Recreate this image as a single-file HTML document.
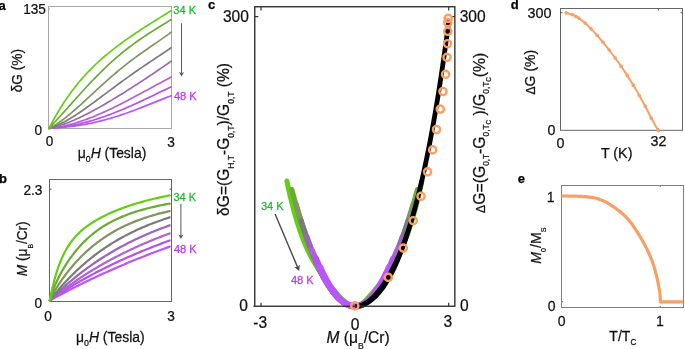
<!DOCTYPE html>
<html><head><meta charset="utf-8"><title>Figure</title>
<style>
html,body{margin:0;padding:0;background:#fff;}
svg{display:block;font-family:'Liberation Sans', Arial, Helvetica, sans-serif;}
</style></head>
<body>
<svg width="685" height="349" viewBox="0 0 685 349">
<rect width="685" height="349" fill="#fff"/>
<rect x="48.5" y="6.5" width="123" height="122" fill="none" stroke="#a8a8a8" stroke-width="1"/>
<path d="M48.5 9h1.5" stroke="#999" stroke-width="1"/>
<g fill="none" stroke-width="1.7" stroke-linecap="round" stroke-linejoin="round">
<path d="M48.96 128.30 L51.45 128.16 L53.95 128.00 L56.44 127.83 L58.94 127.64 L61.43 127.43 L63.92 127.20 L66.42 126.95 L68.91 126.68 L71.40 126.39 L73.90 126.07 L76.39 125.72 L78.89 125.35 L81.38 124.96 L83.87 124.54 L86.37 124.09 L88.86 123.61 L91.36 123.11 L93.85 122.57 L96.34 122.01 L98.84 121.42 L101.33 120.81 L103.83 120.16 L106.32 119.49 L108.81 118.79 L111.31 118.06 L113.80 117.31 L116.29 116.53 L118.79 115.73 L121.28 114.91 L123.78 114.06 L126.27 113.19 L128.76 112.30 L131.26 111.39 L133.75 110.47 L136.25 109.53 L138.74 108.57 L141.23 107.60 L143.73 106.62 L146.22 105.63 L148.72 104.64 L151.21 103.63 L153.70 102.63 L156.20 101.62 L158.69 100.62 L161.18 99.62 L163.68 98.63 L166.17 97.65 L168.67 96.68 L171.16 95.72" stroke="#bb55ff"/>
<path d="M48.96 128.30 L51.45 128.15 L53.95 127.96 L56.44 127.74 L58.94 127.47 L61.43 127.16 L63.92 126.82 L66.42 126.44 L68.91 126.02 L71.40 125.57 L73.90 125.08 L76.39 124.56 L78.89 124.00 L81.38 123.41 L83.87 122.78 L86.37 122.12 L88.86 121.43 L91.36 120.71 L93.85 119.97 L96.34 119.19 L98.84 118.38 L101.33 117.54 L103.83 116.68 L106.32 115.79 L108.81 114.88 L111.31 113.94 L113.80 112.98 L116.29 112.00 L118.79 111.00 L121.28 109.97 L123.78 108.92 L126.27 107.86 L128.76 106.78 L131.26 105.68 L133.75 104.57 L136.25 103.44 L138.74 102.30 L141.23 101.14 L143.73 99.98 L146.22 98.80 L148.72 97.62 L151.21 96.43 L153.70 95.23 L156.20 94.02 L158.69 92.81 L161.18 91.60 L163.68 90.39 L166.17 89.17 L168.67 87.96 L171.16 86.75" stroke="#b552ee"/>
<path d="M48.96 128.30 L51.45 128.05 L53.95 127.75 L56.44 127.39 L58.94 126.98 L61.43 126.51 L63.92 126.00 L66.42 125.44 L68.91 124.82 L71.40 124.17 L73.90 123.46 L76.39 122.72 L78.89 121.93 L81.38 121.11 L83.87 120.24 L86.37 119.34 L88.86 118.41 L91.36 117.44 L93.85 116.44 L96.34 115.41 L98.84 114.34 L101.33 113.25 L103.83 112.14 L106.32 111.00 L108.81 109.83 L111.31 108.65 L113.80 107.44 L116.29 106.21 L118.79 104.97 L121.28 103.71 L123.78 102.43 L126.27 101.14 L128.76 99.84 L131.26 98.52 L133.75 97.20 L136.25 95.87 L138.74 94.53 L141.23 93.19 L143.73 91.84 L146.22 90.49 L148.72 89.13 L151.21 87.78 L153.70 86.42 L156.20 85.07 L158.69 83.72 L161.18 82.38 L163.68 81.04 L166.17 79.71 L168.67 78.39 L171.16 77.08" stroke="#b062d6"/>
<path d="M48.96 128.30 L51.45 127.76 L53.95 127.15 L56.44 126.48 L58.94 125.74 L61.43 124.95 L63.92 124.09 L66.42 123.18 L68.91 122.23 L71.40 121.22 L73.90 120.17 L76.39 119.07 L78.89 117.93 L81.38 116.76 L83.87 115.54 L86.37 114.30 L88.86 113.02 L91.36 111.71 L93.85 110.37 L96.34 109.01 L98.84 107.62 L101.33 106.21 L103.83 104.78 L106.32 103.33 L108.81 101.85 L111.31 100.37 L113.80 98.86 L116.29 97.34 L118.79 95.81 L121.28 94.26 L123.78 92.70 L126.27 91.13 L128.76 89.54 L131.26 87.95 L133.75 86.35 L136.25 84.74 L138.74 83.11 L141.23 81.48 L143.73 79.84 L146.22 78.20 L148.72 76.54 L151.21 74.87 L153.70 73.20 L156.20 71.52 L158.69 69.82 L161.18 68.12 L163.68 66.40 L166.17 64.67 L168.67 62.94 L171.16 61.18" stroke="#9966bb"/>
<path d="M48.96 128.30 L51.45 127.52 L53.95 126.63 L56.44 125.63 L58.94 124.53 L61.43 123.33 L63.92 122.06 L66.42 120.70 L68.91 119.27 L71.40 117.78 L73.90 116.22 L76.39 114.62 L78.89 112.97 L81.38 111.27 L83.87 109.54 L86.37 107.78 L88.86 105.99 L91.36 104.18 L93.85 102.35 L96.34 100.51 L98.84 98.65 L101.33 96.79 L103.83 94.92 L106.32 93.06 L108.81 91.19 L111.31 89.33 L113.80 87.48 L116.29 85.63 L118.79 83.79 L121.28 81.97 L123.78 80.15 L126.27 78.35 L128.76 76.57 L131.26 74.80 L133.75 73.04 L136.25 71.30 L138.74 69.57 L141.23 67.85 L143.73 66.15 L146.22 64.46 L148.72 62.78 L151.21 61.10 L153.70 59.44 L156.20 57.78 L158.69 56.12 L161.18 54.46 L163.68 52.79 L166.17 51.12 L168.67 49.44 L171.16 47.75" stroke="#7b7b7b"/>
<path d="M48.96 128.30 L51.45 127.05 L53.95 125.65 L56.44 124.12 L58.94 122.47 L61.43 120.72 L63.92 118.86 L66.42 116.93 L68.91 114.91 L71.40 112.83 L73.90 110.69 L76.39 108.51 L78.89 106.28 L81.38 104.03 L83.87 101.75 L86.37 99.45 L88.86 97.14 L91.36 94.83 L93.85 92.51 L96.34 90.21 L98.84 87.91 L101.33 85.64 L103.83 83.38 L106.32 81.14 L108.81 78.93 L111.31 76.75 L113.80 74.60 L116.29 72.49 L118.79 70.40 L121.28 68.36 L123.78 66.35 L126.27 64.37 L128.76 62.43 L131.26 60.52 L133.75 58.65 L136.25 56.81 L138.74 54.99 L141.23 53.21 L143.73 51.44 L146.22 49.70 L148.72 47.97 L151.21 46.25 L153.70 44.54 L156.20 42.83 L158.69 41.11 L161.18 39.38 L163.68 37.64 L166.17 35.87 L168.67 34.07 L171.16 32.23" stroke="#7f9660"/>
<path d="M48.96 128.30 L51.45 125.67 L53.95 123.00 L56.44 120.29 L58.94 117.55 L61.43 114.78 L63.92 112.00 L66.42 109.20 L68.91 106.40 L71.40 103.59 L73.90 100.79 L76.39 98.00 L78.89 95.23 L81.38 92.47 L83.87 89.74 L86.37 87.04 L88.86 84.36 L91.36 81.72 L93.85 79.12 L96.34 76.55 L98.84 74.03 L101.33 71.56 L103.83 69.12 L106.32 66.74 L108.81 64.40 L111.31 62.12 L113.80 59.88 L116.29 57.70 L118.79 55.57 L121.28 53.48 L123.78 51.45 L126.27 49.47 L128.76 47.54 L131.26 45.65 L133.75 43.81 L136.25 42.01 L138.74 40.25 L141.23 38.53 L143.73 36.85 L146.22 35.19 L148.72 33.57 L151.21 31.98 L153.70 30.40 L156.20 28.84 L158.69 27.30 L161.18 25.76 L163.68 24.22 L166.17 22.69 L168.67 21.14 L171.16 19.58" stroke="#69ab34"/>
<path d="M48.96 128.30 L51.45 123.56 L53.95 119.02 L56.44 114.65 L58.94 110.46 L61.43 106.43 L63.92 102.57 L66.42 98.85 L68.91 95.28 L71.40 91.85 L73.90 88.55 L76.39 85.38 L78.89 82.32 L81.38 79.38 L83.87 76.54 L86.37 73.80 L88.86 71.16 L91.36 68.60 L93.85 66.14 L96.34 63.75 L98.84 61.43 L101.33 59.19 L103.83 57.01 L106.32 54.89 L108.81 52.83 L111.31 50.82 L113.80 48.85 L116.29 46.94 L118.79 45.06 L121.28 43.22 L123.78 41.42 L126.27 39.65 L128.76 37.90 L131.26 36.19 L133.75 34.49 L136.25 32.82 L138.74 31.17 L141.23 29.53 L143.73 27.91 L146.22 26.31 L148.72 24.71 L151.21 23.13 L153.70 21.56 L156.20 19.99 L158.69 18.43 L161.18 16.88 L163.68 15.34 L166.17 13.81 L168.67 12.28 L171.16 10.76" stroke="#66cc14"/>
</g>
<line x1="181.50" y1="23.40" x2="181.50" y2="73.00" stroke="#555" stroke-width="1"/>
<path d="M181.50 76.50 L178.90 72.00 L181.50 73.20 L184.10 72.00 Z" fill="#555"/>
<rect x="49.5" y="179.5" width="122" height="122" fill="none" stroke="#666" stroke-width="1"/>
<path d="M49.5 189.2h2 M171.5 189.2h-2" stroke="#555" stroke-width="1"/>
<g fill="none" stroke-width="2.2" stroke-linecap="round" stroke-linejoin="round">
<path d="M49.80 300.50 L49.89 300.45 L50.08 300.35 L50.33 300.21 L50.64 300.04 L51.00 299.84 L51.40 299.61 L51.85 299.37 L52.34 299.10 L52.87 298.81 L53.43 298.50 L54.03 298.18 L54.66 297.83 L55.32 297.47 L56.02 297.09 L56.74 296.70 L57.50 296.29 L58.28 295.87 L59.09 295.43 L59.93 294.99 L60.80 294.52 L61.69 294.05 L62.61 293.56 L63.56 293.06 L64.53 292.55 L65.52 292.03 L66.54 291.50 L67.58 290.96 L68.65 290.40 L69.74 289.84 L70.85 289.27 L71.98 288.69 L73.14 288.10 L74.31 287.50 L75.51 286.89 L76.73 286.28 L77.98 285.66 L79.24 285.03 L80.52 284.39 L81.83 283.74 L83.15 283.09 L84.49 282.43 L85.86 281.77 L87.24 281.10 L88.64 280.42 L90.07 279.74 L91.51 279.05 L92.97 278.35 L94.45 277.65 L95.94 276.95 L97.46 276.24 L98.99 275.53 L100.55 274.81 L102.12 274.09 L103.70 273.36 L105.31 272.63 L106.93 271.90 L108.58 271.16 L110.23 270.42 L111.91 269.68 L113.60 268.93 L115.31 268.18 L117.04 267.43 L118.78 266.67 L120.54 265.91 L122.32 265.16 L124.11 264.39 L125.92 263.63 L127.75 262.86 L129.59 262.10 L131.45 261.33 L133.32 260.56 L135.21 259.79 L137.12 259.01 L139.04 258.24 L140.98 257.47 L142.93 256.69 L144.90 255.92 L146.88 255.14 L148.88 254.36 L150.90 253.59 L152.93 252.81 L154.97 252.03 L157.03 251.25 L159.11 250.48 L161.19 249.70 L163.30 248.93 L165.42 248.15 L167.55 247.37 L169.70 246.60" stroke="#bb55ff"/>
<path d="M49.80 300.50 L49.89 300.43 L50.08 300.30 L50.33 300.12 L50.64 299.90 L51.00 299.64 L51.40 299.36 L51.85 299.04 L52.34 298.69 L52.87 298.33 L53.43 297.93 L54.03 297.52 L54.66 297.08 L55.32 296.63 L56.02 296.15 L56.74 295.66 L57.50 295.15 L58.28 294.63 L59.09 294.09 L59.93 293.54 L60.80 292.97 L61.69 292.39 L62.61 291.80 L63.56 291.19 L64.53 290.57 L65.52 289.95 L66.54 289.31 L67.58 288.66 L68.65 288.00 L69.74 287.34 L70.85 286.66 L71.98 285.98 L73.14 285.28 L74.31 284.58 L75.51 283.88 L76.73 283.16 L77.98 282.44 L79.24 281.72 L80.52 280.98 L81.83 280.24 L83.15 279.50 L84.49 278.75 L85.86 277.99 L87.24 277.24 L88.64 276.47 L90.07 275.70 L91.51 274.93 L92.97 274.15 L94.45 273.37 L95.94 272.59 L97.46 271.80 L98.99 271.01 L100.55 270.22 L102.12 269.43 L103.70 268.63 L105.31 267.83 L106.93 267.03 L108.58 266.22 L110.23 265.42 L111.91 264.61 L113.60 263.80 L115.31 263.00 L117.04 262.19 L118.78 261.37 L120.54 260.56 L122.32 259.75 L124.11 258.94 L125.92 258.12 L127.75 257.31 L129.59 256.50 L131.45 255.69 L133.32 254.87 L135.21 254.06 L137.12 253.25 L139.04 252.44 L140.98 251.63 L142.93 250.83 L144.90 250.02 L146.88 249.21 L148.88 248.41 L150.90 247.61 L152.93 246.81 L154.97 246.01 L157.03 245.21 L159.11 244.42 L161.19 243.63 L163.30 242.84 L165.42 242.05 L167.55 241.26 L169.70 240.48" stroke="#b552ee"/>
<path d="M49.80 300.50 L49.89 300.42 L50.08 300.27 L50.33 300.06 L50.64 299.81 L51.00 299.51 L51.40 299.18 L51.85 298.81 L52.34 298.41 L52.87 297.98 L53.43 297.53 L54.03 297.05 L54.66 296.54 L55.32 296.01 L56.02 295.46 L56.74 294.89 L57.50 294.29 L58.28 293.68 L59.09 293.05 L59.93 292.41 L60.80 291.74 L61.69 291.06 L62.61 290.37 L63.56 289.66 L64.53 288.94 L65.52 288.21 L66.54 287.46 L67.58 286.70 L68.65 285.93 L69.74 285.15 L70.85 284.36 L71.98 283.56 L73.14 282.75 L74.31 281.93 L75.51 281.11 L76.73 280.28 L77.98 279.44 L79.24 278.59 L80.52 277.74 L81.83 276.88 L83.15 276.02 L84.49 275.15 L85.86 274.28 L87.24 273.40 L88.64 272.52 L90.07 271.64 L91.51 270.75 L92.97 269.86 L94.45 268.97 L95.94 268.07 L97.46 267.18 L98.99 266.28 L100.55 265.38 L102.12 264.48 L103.70 263.58 L105.31 262.68 L106.93 261.78 L108.58 260.88 L110.23 259.98 L111.91 259.08 L113.60 258.18 L115.31 257.28 L117.04 256.39 L118.78 255.49 L120.54 254.60 L122.32 253.71 L124.11 252.82 L125.92 251.94 L127.75 251.05 L129.59 250.17 L131.45 249.30 L133.32 248.42 L135.21 247.55 L137.12 246.68 L139.04 245.82 L140.98 244.96 L142.93 244.11 L144.90 243.25 L146.88 242.41 L148.88 241.57 L150.90 240.73 L152.93 239.89 L154.97 239.07 L157.03 238.24 L159.11 237.42 L161.19 236.61 L163.30 235.80 L165.42 235.00 L167.55 234.20 L169.70 233.41" stroke="#b062d6"/>
<path d="M49.80 300.50 L49.89 300.41 L50.08 300.22 L50.33 299.96 L50.64 299.65 L51.00 299.29 L51.40 298.88 L51.85 298.44 L52.34 297.95 L52.87 297.43 L53.43 296.87 L54.03 296.29 L54.66 295.67 L55.32 295.03 L56.02 294.36 L56.74 293.66 L57.50 292.94 L58.28 292.20 L59.09 291.44 L59.93 290.65 L60.80 289.85 L61.69 289.03 L62.61 288.20 L63.56 287.34 L64.53 286.47 L65.52 285.59 L66.54 284.70 L67.58 283.79 L68.65 282.87 L69.74 281.94 L70.85 280.99 L71.98 280.04 L73.14 279.08 L74.31 278.12 L75.51 277.14 L76.73 276.16 L77.98 275.17 L79.24 274.18 L80.52 273.18 L81.83 272.17 L83.15 271.17 L84.49 270.16 L85.86 269.14 L87.24 268.13 L88.64 267.11 L90.07 266.09 L91.51 265.07 L92.97 264.05 L94.45 263.03 L95.94 262.02 L97.46 261.00 L98.99 259.98 L100.55 258.97 L102.12 257.96 L103.70 256.95 L105.31 255.94 L106.93 254.94 L108.58 253.94 L110.23 252.95 L111.91 251.96 L113.60 250.97 L115.31 249.99 L117.04 249.01 L118.78 248.04 L120.54 247.08 L122.32 246.12 L124.11 245.17 L125.92 244.22 L127.75 243.28 L129.59 242.35 L131.45 241.42 L133.32 240.50 L135.21 239.59 L137.12 238.69 L139.04 237.79 L140.98 236.90 L142.93 236.02 L144.90 235.15 L146.88 234.29 L148.88 233.43 L150.90 232.59 L152.93 231.75 L154.97 230.92 L157.03 230.10 L159.11 229.29 L161.19 228.48 L163.30 227.69 L165.42 226.91 L167.55 226.13 L169.70 225.36" stroke="#9966bb"/>
<path d="M49.80 300.50 L49.89 300.38 L50.08 300.14 L50.33 299.82 L50.64 299.42 L51.00 298.96 L51.40 298.44 L51.85 297.87 L52.34 297.25 L52.87 296.59 L53.43 295.89 L54.03 295.14 L54.66 294.37 L55.32 293.56 L56.02 292.71 L56.74 291.84 L57.50 290.94 L58.28 290.02 L59.09 289.07 L59.93 288.09 L60.80 287.10 L61.69 286.09 L62.61 285.06 L63.56 284.01 L64.53 282.94 L65.52 281.87 L66.54 280.78 L67.58 279.67 L68.65 278.56 L69.74 277.44 L70.85 276.30 L71.98 275.16 L73.14 274.02 L74.31 272.87 L75.51 271.71 L76.73 270.55 L77.98 269.39 L79.24 268.22 L80.52 267.05 L81.83 265.89 L83.15 264.72 L84.49 263.55 L85.86 262.39 L87.24 261.23 L88.64 260.07 L90.07 258.91 L91.51 257.76 L92.97 256.61 L94.45 255.47 L95.94 254.34 L97.46 253.21 L98.99 252.09 L100.55 250.97 L102.12 249.87 L103.70 248.77 L105.31 247.68 L106.93 246.60 L108.58 245.52 L110.23 244.46 L111.91 243.41 L113.60 242.37 L115.31 241.34 L117.04 240.32 L118.78 239.31 L120.54 238.31 L122.32 237.32 L124.11 236.35 L125.92 235.38 L127.75 234.43 L129.59 233.49 L131.45 232.57 L133.32 231.65 L135.21 230.75 L137.12 229.86 L139.04 228.99 L140.98 228.13 L142.93 227.28 L144.90 226.44 L146.88 225.62 L148.88 224.80 L150.90 224.01 L152.93 223.22 L154.97 222.45 L157.03 221.69 L159.11 220.95 L161.19 220.21 L163.30 219.49 L165.42 218.79 L167.55 218.09 L169.70 217.41" stroke="#7b7b7b"/>
<path d="M49.80 300.50 L49.89 300.30 L50.08 299.88 L50.33 299.33 L50.64 298.67 L51.00 297.91 L51.40 297.08 L51.85 296.18 L52.34 295.23 L52.87 294.23 L53.43 293.19 L54.03 292.11 L54.66 291.00 L55.32 289.86 L56.02 288.69 L56.74 287.51 L57.50 286.30 L58.28 285.07 L59.09 283.83 L59.93 282.56 L60.80 281.29 L61.69 280.00 L62.61 278.70 L63.56 277.39 L64.53 276.07 L65.52 274.74 L66.54 273.40 L67.58 272.06 L68.65 270.72 L69.74 269.37 L70.85 268.02 L71.98 266.68 L73.14 265.33 L74.31 263.98 L75.51 262.64 L76.73 261.30 L77.98 259.97 L79.24 258.65 L80.52 257.33 L81.83 256.02 L83.15 254.72 L84.49 253.43 L85.86 252.16 L87.24 250.89 L88.64 249.64 L90.07 248.40 L91.51 247.17 L92.97 245.96 L94.45 244.76 L95.94 243.58 L97.46 242.42 L98.99 241.27 L100.55 240.14 L102.12 239.03 L103.70 237.93 L105.31 236.85 L106.93 235.79 L108.58 234.75 L110.23 233.73 L111.91 232.72 L113.60 231.74 L115.31 230.77 L117.04 229.82 L118.78 228.89 L120.54 227.98 L122.32 227.09 L124.11 226.22 L125.92 225.36 L127.75 224.53 L129.59 223.71 L131.45 222.92 L133.32 222.14 L135.21 221.38 L137.12 220.64 L139.04 219.91 L140.98 219.21 L142.93 218.52 L144.90 217.85 L146.88 217.20 L148.88 216.56 L150.90 215.94 L152.93 215.34 L154.97 214.75 L157.03 214.18 L159.11 213.63 L161.19 213.09 L163.30 212.57 L165.42 212.06 L167.55 211.57 L169.70 211.09" stroke="#7f9660"/>
<path d="M49.80 300.50 L49.89 300.16 L50.08 299.49 L50.33 298.60 L50.64 297.54 L51.00 296.35 L51.40 295.06 L51.85 293.69 L52.34 292.26 L52.87 290.78 L53.43 289.27 L54.03 287.72 L54.66 286.16 L55.32 284.58 L56.02 282.99 L56.74 281.39 L57.50 279.79 L58.28 278.18 L59.09 276.56 L59.93 274.95 L60.80 273.33 L61.69 271.71 L62.61 270.10 L63.56 268.48 L64.53 266.87 L65.52 265.27 L66.54 263.67 L67.58 262.08 L68.65 260.50 L69.74 258.93 L70.85 257.37 L71.98 255.83 L73.14 254.30 L74.31 252.78 L75.51 251.29 L76.73 249.81 L77.98 248.35 L79.24 246.92 L80.52 245.50 L81.83 244.11 L83.15 242.73 L84.49 241.39 L85.86 240.06 L87.24 238.77 L88.64 237.49 L90.07 236.25 L91.51 235.02 L92.97 233.83 L94.45 232.66 L95.94 231.51 L97.46 230.39 L98.99 229.30 L100.55 228.24 L102.12 227.20 L103.70 226.18 L105.31 225.19 L106.93 224.23 L108.58 223.29 L110.23 222.38 L111.91 221.49 L113.60 220.62 L115.31 219.78 L117.04 218.96 L118.78 218.16 L120.54 217.38 L122.32 216.63 L124.11 215.90 L125.92 215.18 L127.75 214.49 L129.59 213.82 L131.45 213.16 L133.32 212.53 L135.21 211.91 L137.12 211.31 L139.04 210.72 L140.98 210.16 L142.93 209.60 L144.90 209.07 L146.88 208.55 L148.88 208.04 L150.90 207.54 L152.93 207.06 L154.97 206.59 L157.03 206.14 L159.11 205.69 L161.19 205.26 L163.30 204.84 L165.42 204.42 L167.55 204.02 L169.70 203.63" stroke="#69ab34"/>
<path d="M49.80 300.50 L49.89 300.02 L50.08 299.05 L50.33 297.76 L50.64 296.21 L51.00 294.45 L51.40 292.52 L51.85 290.46 L52.34 288.29 L52.87 286.04 L53.43 283.72 L54.03 281.37 L54.66 278.99 L55.32 276.61 L56.02 274.22 L56.74 271.86 L57.50 269.52 L58.28 267.22 L59.09 264.96 L59.93 262.75 L60.80 260.59 L61.69 258.48 L62.61 256.44 L63.56 254.46 L64.53 252.53 L65.52 250.68 L66.54 248.88 L67.58 247.14 L68.65 245.46 L69.74 243.84 L70.85 242.28 L71.98 240.77 L73.14 239.32 L74.31 237.91 L75.51 236.55 L76.73 235.24 L77.98 233.97 L79.24 232.74 L80.52 231.55 L81.83 230.39 L83.15 229.27 L84.49 228.18 L85.86 227.12 L87.24 226.09 L88.64 225.08 L90.07 224.10 L91.51 223.15 L92.97 222.21 L94.45 221.30 L95.94 220.40 L97.46 219.53 L98.99 218.67 L100.55 217.83 L102.12 217.00 L103.70 216.19 L105.31 215.40 L106.93 214.62 L108.58 213.85 L110.23 213.10 L111.91 212.36 L113.60 211.63 L115.31 210.92 L117.04 210.21 L118.78 209.52 L120.54 208.85 L122.32 208.18 L124.11 207.52 L125.92 206.88 L127.75 206.25 L129.59 205.62 L131.45 205.01 L133.32 204.41 L135.21 203.82 L137.12 203.25 L139.04 202.68 L140.98 202.12 L142.93 201.58 L144.90 201.04 L146.88 200.52 L148.88 200.00 L150.90 199.50 L152.93 199.01 L154.97 198.52 L157.03 198.05 L159.11 197.58 L161.19 197.13 L163.30 196.69 L165.42 196.25 L167.55 195.83 L169.70 195.41" stroke="#66cc14"/>
</g>
<line x1="180.90" y1="203.70" x2="180.90" y2="235.40" stroke="#555" stroke-width="1"/>
<path d="M180.90 238.90 L178.30 234.40 L180.90 235.60 L183.50 234.40 Z" fill="#555"/>
<g fill="none" stroke-linecap="round" stroke-linejoin="round">
<path d="M286.89 181.05 L287.74 185.13 L288.59 189.06 L289.44 192.86 L290.29 196.53 L291.15 200.08 L292.00 203.51 L292.85 206.83 L293.70 210.04 L294.55 213.14 L295.40 216.14 L296.25 219.04 L297.11 221.84 L297.96 224.56 L298.81 227.18 L299.66 229.73 L300.51 232.19 L301.36 234.58 L302.21 236.90 L303.07 239.14 L303.92 241.31 L304.77 243.41 L305.62 245.43 L306.47 247.37 L307.32 249.25 L308.17 251.07 L309.02 252.83 L309.88 254.53 L310.73 256.18 L311.58 257.78 L312.43 259.34 L313.28 260.85 L314.13 262.33 L314.98 263.77 L315.84 265.17 L316.69 266.55 L317.54 267.89 L318.39 269.21 L319.24 270.50 L320.09 271.77 L320.94 273.02 L321.80 274.25 L322.65 275.46 L323.50 276.66 L324.35 277.84 L325.20 279.00 L326.05 280.15 L326.90 281.29 L327.76 282.41 L328.61 283.52 L329.46 284.62 L330.31 285.70 L331.16 286.77 L332.01 287.83 L332.86 288.88 L333.72 289.91 L334.57 290.93 L335.42 291.93 L336.27 292.92 L337.12 293.88 L337.97 294.83 L338.82 295.76 L339.67 296.66 L340.53 297.55 L341.38 298.40 L342.23 299.23 L343.08 300.02 L343.93 300.78 L344.78 301.51 L345.63 302.20 L346.49 302.85 L347.34 303.45 L348.19 304.01 L349.04 304.51 L349.89 304.96 L350.74 305.35 L351.59 305.68 L352.45 305.95 L353.30 306.14 L354.15 306.26 L355.00 306.30 L355.78 306.26 L356.56 306.14 L357.34 305.95 L358.12 305.68 L358.90 305.35 L359.68 304.96 L360.47 304.51 L361.25 304.01 L362.03 303.45 L362.81 302.85 L363.59 302.20 L364.37 301.51 L365.15 300.78 L365.93 300.02 L366.71 299.23 L367.49 298.40 L368.27 297.55 L369.05 296.66 L369.88 295.76 L370.73 294.83 L371.58 293.88 L372.43 292.92 L373.28 291.93 L374.13 290.93 L374.98 289.91 L375.84 288.88 L376.69 287.83 L377.54 286.77 L378.39 285.70 L379.24 284.62 L380.09 283.52 L380.94 282.41 L381.80 281.29 L382.65 280.15 L383.50 279.00 L384.35 277.84 L385.20 276.66 L386.05 275.46 L386.90 274.25 L387.76 273.02 L388.61 271.77 L389.46 270.50 L390.31 269.21 L391.16 267.89 L392.01 266.55 L392.86 265.17 L393.72 263.77 L394.57 262.33 L395.42 260.85 L396.27 259.34 L397.12 257.78 L397.97 256.18 L398.82 254.53 L399.68 252.83 L400.53 251.07 L401.38 249.25 L402.23 247.37 L403.08 245.43 L403.93 243.41 L404.78 241.31 L405.63 239.14 L406.49 236.90 L407.34 234.58 L408.19 232.19 L409.04 229.73 L409.89 227.18 L410.74 224.56 L411.59 221.84 L412.45 219.04 L413.30 216.14 L414.15 213.14 L415.00 210.04 L415.85 206.83 L416.70 203.51 L417.55 200.08 L418.41 196.53 L419.26 192.86 L420.11 189.06 L420.96 185.13 L421.81 181.05" stroke="#66cc14" stroke-width="5.0"/>
<path d="M291.81 189.61 L292.60 192.58 L293.39 195.50 L294.18 198.39 L294.97 201.23 L295.76 204.03 L296.55 206.80 L297.34 209.52 L298.13 212.20 L298.92 214.85 L299.71 217.45 L300.50 220.01 L301.29 222.54 L302.08 225.02 L302.87 227.47 L303.66 229.88 L304.45 232.25 L305.24 234.58 L306.03 236.87 L306.82 239.12 L307.61 241.33 L308.40 243.51 L309.19 245.64 L309.98 247.74 L310.77 249.80 L311.56 251.82 L312.34 253.81 L313.13 255.75 L313.92 257.66 L314.71 259.53 L315.50 261.37 L316.29 263.16 L317.08 264.92 L317.87 266.64 L318.66 268.32 L319.45 269.97 L320.24 271.58 L321.03 273.15 L321.82 274.68 L322.61 276.18 L323.40 277.64 L324.19 279.06 L324.98 280.45 L325.77 281.80 L326.56 283.11 L327.35 284.39 L328.14 285.63 L328.93 286.83 L329.72 288.00 L330.51 289.13 L331.30 290.22 L332.09 291.28 L332.88 292.30 L333.67 293.28 L334.46 294.23 L335.25 295.14 L336.04 296.02 L336.83 296.86 L337.62 297.67 L338.41 298.43 L339.20 299.17 L339.99 299.86 L340.78 300.52 L341.57 301.15 L342.36 301.74 L343.15 302.29 L343.94 302.81 L344.73 303.29 L345.52 303.73 L346.31 304.14 L347.10 304.52 L347.89 304.86 L348.68 305.16 L349.47 305.43 L350.26 305.66 L351.05 305.85 L351.84 306.02 L352.63 306.14 L353.42 306.23 L354.21 306.28 L355.00 306.30 L355.76 306.28 L356.53 306.23 L357.29 306.14 L358.06 306.02 L358.82 305.85 L359.59 305.66 L360.35 305.43 L361.12 305.16 L361.88 304.86 L362.65 304.52 L363.41 304.14 L364.18 303.73 L364.94 303.29 L365.71 302.81 L366.47 302.29 L367.24 301.74 L368.00 301.15 L368.76 300.52 L369.53 299.86 L370.29 299.17 L371.06 298.43 L371.82 297.67 L372.59 296.86 L373.35 296.02 L374.12 295.14 L374.88 294.23 L375.65 293.28 L376.41 292.30 L377.18 291.28 L377.94 290.22 L378.71 289.13 L379.48 288.00 L380.27 286.83 L381.06 285.63 L381.85 284.39 L382.64 283.11 L383.43 281.80 L384.22 280.45 L385.01 279.06 L385.80 277.64 L386.59 276.18 L387.38 274.68 L388.17 273.15 L388.96 271.58 L389.75 269.97 L390.54 268.32 L391.33 266.64 L392.12 264.92 L392.91 263.16 L393.70 261.37 L394.49 259.53 L395.28 257.66 L396.07 255.75 L396.86 253.81 L397.64 251.82 L398.43 249.80 L399.22 247.74 L400.01 245.64 L400.80 243.51 L401.59 241.33 L402.38 239.12 L403.17 236.87 L403.96 234.58 L404.75 232.25 L405.54 229.88 L406.33 227.47 L407.12 225.02 L407.91 222.54 L408.70 220.01 L409.49 217.45 L410.28 214.85 L411.07 212.20 L411.86 209.52 L412.65 206.80 L413.44 204.03 L414.23 201.23 L415.02 198.39 L415.81 195.50 L416.60 192.58 L417.39 189.61" stroke="#69ab34" stroke-width="5.2"/>
<path d="M296.19 204.36 L296.93 206.92 L297.66 209.45 L298.40 211.95 L299.13 214.41 L299.87 216.83 L300.60 219.23 L301.34 221.59 L302.07 223.91 L302.81 226.21 L303.54 228.47 L304.28 230.70 L305.01 232.89 L305.75 235.05 L306.48 237.18 L307.22 239.27 L307.95 241.34 L308.69 243.36 L309.43 245.36 L310.16 247.32 L310.90 249.25 L311.63 251.15 L312.37 253.02 L313.10 254.85 L313.84 256.65 L314.57 258.42 L315.31 260.15 L316.04 261.85 L316.78 263.52 L317.51 265.16 L318.25 266.77 L318.98 268.34 L319.72 269.88 L320.45 271.39 L321.19 272.86 L321.92 274.31 L322.66 275.72 L323.39 277.10 L324.13 278.44 L324.86 279.76 L325.60 281.04 L326.33 282.29 L327.07 283.51 L327.80 284.70 L328.54 285.85 L329.27 286.97 L330.01 288.06 L330.74 289.12 L331.48 290.15 L332.21 291.15 L332.95 292.11 L333.68 293.04 L334.42 293.94 L335.15 294.81 L335.89 295.65 L336.62 296.45 L337.36 297.22 L338.09 297.97 L338.83 298.67 L339.56 299.35 L340.30 300.00 L341.03 300.61 L341.77 301.20 L342.50 301.75 L343.24 302.27 L343.97 302.76 L344.71 303.21 L345.44 303.64 L346.18 304.03 L346.91 304.39 L347.65 304.73 L348.38 305.02 L349.12 305.29 L349.85 305.53 L350.59 305.73 L351.32 305.91 L352.06 306.05 L352.79 306.16 L353.53 306.24 L354.26 306.28 L355.00 306.30 L355.71 306.28 L356.42 306.24 L357.13 306.16 L357.85 306.05 L358.56 305.91 L359.27 305.73 L359.98 305.53 L360.69 305.29 L361.40 305.02 L362.12 304.73 L362.83 304.39 L363.54 304.03 L364.25 303.64 L364.96 303.21 L365.67 302.76 L366.39 302.27 L367.10 301.75 L367.81 301.20 L368.52 300.61 L369.23 300.00 L369.94 299.35 L370.66 298.67 L371.37 297.97 L372.08 297.22 L372.79 296.45 L373.50 295.65 L374.21 294.81 L374.93 293.94 L375.64 293.04 L376.35 292.11 L377.06 291.15 L377.77 290.15 L378.48 289.12 L379.19 288.06 L379.93 286.97 L380.66 285.85 L381.40 284.70 L382.13 283.51 L382.87 282.29 L383.60 281.04 L384.34 279.76 L385.07 278.44 L385.81 277.10 L386.54 275.72 L387.28 274.31 L388.01 272.86 L388.75 271.39 L389.48 269.88 L390.22 268.34 L390.95 266.77 L391.69 265.16 L392.42 263.52 L393.16 261.85 L393.89 260.15 L394.63 258.42 L395.36 256.65 L396.10 254.85 L396.83 253.02 L397.57 251.15 L398.30 249.25 L399.04 247.32 L399.77 245.36 L400.51 243.36 L401.25 241.34 L401.98 239.27 L402.72 237.18 L403.45 235.05 L404.19 232.89 L404.92 230.70 L405.66 228.47 L406.39 226.21 L407.13 223.91 L407.86 221.59 L408.60 219.23 L409.33 216.83 L410.07 214.41 L410.80 211.95 L411.54 209.45 L412.27 206.92 L413.01 204.36" stroke="#7f9660" stroke-width="5.2"/>
<path d="M301.11 220.85 L301.79 222.97 L302.46 225.07 L303.13 227.14 L303.81 229.18 L304.48 231.20 L305.15 233.19 L305.83 235.15 L306.50 237.09 L307.17 239.00 L307.85 240.88 L308.52 242.73 L309.20 244.56 L309.87 246.37 L310.54 248.14 L311.22 249.89 L311.89 251.61 L312.56 253.31 L313.24 254.98 L313.91 256.62 L314.58 258.24 L315.26 259.82 L315.93 261.39 L316.61 262.92 L317.28 264.43 L317.95 265.91 L318.63 267.37 L319.30 268.80 L319.97 270.20 L320.65 271.57 L321.32 272.92 L321.99 274.24 L322.67 275.54 L323.34 276.81 L324.01 278.05 L324.69 279.26 L325.36 280.45 L326.04 281.61 L326.71 282.75 L327.38 283.86 L328.06 284.94 L328.73 285.99 L329.40 287.02 L330.08 288.02 L330.75 289.00 L331.42 289.94 L332.10 290.87 L332.77 291.76 L333.44 292.63 L334.12 293.47 L334.79 294.28 L335.47 295.07 L336.14 295.83 L336.81 296.57 L337.49 297.27 L338.16 297.96 L338.83 298.61 L339.51 299.24 L340.18 299.84 L340.85 300.41 L341.53 300.96 L342.20 301.48 L342.88 301.97 L343.55 302.44 L344.22 302.88 L344.90 303.30 L345.57 303.68 L346.24 304.04 L346.92 304.38 L347.59 304.68 L348.26 304.96 L348.94 305.22 L349.61 305.45 L350.28 305.65 L350.96 305.82 L351.63 305.97 L352.31 306.09 L352.98 306.18 L353.65 306.25 L354.33 306.29 L355.00 306.30 L355.65 306.29 L356.30 306.25 L356.96 306.18 L357.61 306.09 L358.26 305.97 L358.91 305.82 L359.56 305.65 L360.22 305.45 L360.87 305.22 L361.52 304.96 L362.17 304.68 L362.83 304.38 L363.48 304.04 L364.13 303.68 L364.78 303.30 L365.43 302.88 L366.09 302.44 L366.74 301.97 L367.39 301.48 L368.04 300.96 L368.69 300.41 L369.35 299.84 L370.00 299.24 L370.65 298.61 L371.30 297.96 L371.95 297.27 L372.61 296.57 L373.26 295.83 L373.91 295.07 L374.56 294.28 L375.21 293.47 L375.87 292.63 L376.52 291.76 L377.17 290.87 L377.82 289.94 L378.48 289.00 L379.13 288.02 L379.80 287.02 L380.47 285.99 L381.14 284.94 L381.82 283.86 L382.49 282.75 L383.16 281.61 L383.84 280.45 L384.51 279.26 L385.19 278.05 L385.86 276.81 L386.53 275.54 L387.21 274.24 L387.88 272.92 L388.55 271.57 L389.23 270.20 L389.90 268.80 L390.57 267.37 L391.25 265.91 L391.92 264.43 L392.59 262.92 L393.27 261.39 L393.94 259.82 L394.62 258.24 L395.29 256.62 L395.96 254.98 L396.64 253.31 L397.31 251.61 L397.98 249.89 L398.66 248.14 L399.33 246.37 L400.00 244.56 L400.68 242.73 L401.35 240.88 L402.03 239.00 L402.70 237.09 L403.37 235.15 L404.05 233.19 L404.72 231.20 L405.39 229.18 L406.07 227.14 L406.74 225.07 L407.41 222.97 L408.09 220.85" stroke="#7b7b7b" stroke-width="5.4"/>
<path d="M306.81 237.06 L307.42 238.78 L308.02 240.48 L308.62 242.16 L309.22 243.81 L309.83 245.45 L310.43 247.06 L311.03 248.65 L311.63 250.22 L312.24 251.77 L312.84 253.29 L313.44 254.79 L314.04 256.28 L314.64 257.74 L315.25 259.18 L315.85 260.59 L316.45 261.99 L317.05 263.36 L317.66 264.72 L318.26 266.05 L318.86 267.35 L319.46 268.64 L320.07 269.91 L320.67 271.15 L321.27 272.37 L321.87 273.58 L322.47 274.75 L323.08 275.91 L323.68 277.05 L324.28 278.16 L324.88 279.25 L325.49 280.33 L326.09 281.38 L326.69 282.40 L327.29 283.41 L327.90 284.39 L328.50 285.36 L329.10 286.30 L329.70 287.22 L330.30 288.11 L330.91 288.99 L331.51 289.85 L332.11 290.68 L332.71 291.49 L333.32 292.28 L333.92 293.05 L334.52 293.79 L335.12 294.52 L335.73 295.22 L336.33 295.90 L336.93 296.56 L337.53 297.20 L338.14 297.82 L338.74 298.41 L339.34 298.99 L339.94 299.54 L340.54 300.07 L341.15 300.58 L341.75 301.06 L342.35 301.53 L342.95 301.97 L343.56 302.39 L344.16 302.79 L344.76 303.17 L345.36 303.53 L345.97 303.87 L346.57 304.18 L347.17 304.47 L347.77 304.74 L348.37 304.99 L348.98 305.22 L349.58 305.42 L350.18 305.61 L350.78 305.77 L351.39 305.91 L351.99 306.03 L352.59 306.13 L353.19 306.20 L353.80 306.26 L354.40 306.29 L355.00 306.30 L355.58 306.29 L356.17 306.26 L356.75 306.20 L357.33 306.13 L357.92 306.03 L358.50 305.91 L359.08 305.77 L359.66 305.61 L360.25 305.42 L360.83 305.22 L361.41 304.99 L362.00 304.74 L362.58 304.47 L363.16 304.18 L363.75 303.87 L364.33 303.53 L364.91 303.17 L365.50 302.79 L366.08 302.39 L366.66 301.97 L367.24 301.53 L367.83 301.06 L368.41 300.58 L368.99 300.07 L369.58 299.54 L370.16 298.99 L370.74 298.41 L371.33 297.82 L371.91 297.20 L372.49 296.56 L373.08 295.90 L373.66 295.22 L374.24 294.52 L374.83 293.79 L375.41 293.05 L375.99 292.28 L376.57 291.49 L377.16 290.68 L377.74 289.85 L378.32 288.99 L378.91 288.11 L379.50 287.22 L380.10 286.30 L380.70 285.36 L381.30 284.39 L381.91 283.41 L382.51 282.40 L383.11 281.38 L383.71 280.33 L384.32 279.25 L384.92 278.16 L385.52 277.05 L386.12 275.91 L386.73 274.75 L387.33 273.58 L387.93 272.37 L388.53 271.15 L389.13 269.91 L389.74 268.64 L390.34 267.35 L390.94 266.05 L391.54 264.72 L392.15 263.36 L392.75 261.99 L393.35 260.59 L393.95 259.18 L394.56 257.74 L395.16 256.28 L395.76 254.79 L396.36 253.29 L396.96 251.77 L397.57 250.22 L398.17 248.65 L398.77 247.06 L399.37 245.45 L399.98 243.81 L400.58 242.16 L401.18 240.48 L401.78 238.78 L402.39 237.06" stroke="#9966bb" stroke-width="5.6"/>
<path d="M311.89 249.97 L312.43 251.37 L312.97 252.75 L313.51 254.11 L314.05 255.46 L314.58 256.79 L315.12 258.10 L315.66 259.39 L316.20 260.67 L316.74 261.93 L317.28 263.17 L317.82 264.39 L318.36 265.60 L318.90 266.79 L319.43 267.96 L319.97 269.11 L320.51 270.25 L321.05 271.36 L321.59 272.46 L322.13 273.55 L322.67 274.61 L323.21 275.66 L323.75 276.69 L324.28 277.70 L324.82 278.70 L325.36 279.67 L325.90 280.63 L326.44 281.57 L326.98 282.50 L327.52 283.41 L328.06 284.29 L328.60 285.17 L329.13 286.02 L329.67 286.86 L330.21 287.67 L330.75 288.48 L331.29 289.26 L331.83 290.02 L332.37 290.77 L332.91 291.50 L333.44 292.22 L333.98 292.91 L334.52 293.59 L335.06 294.25 L335.60 294.89 L336.14 295.52 L336.68 296.12 L337.22 296.71 L337.76 297.29 L338.29 297.84 L338.83 298.38 L339.37 298.90 L339.91 299.40 L340.45 299.88 L340.99 300.35 L341.53 300.80 L342.07 301.23 L342.61 301.64 L343.14 302.04 L343.68 302.42 L344.22 302.78 L344.76 303.12 L345.30 303.45 L345.84 303.76 L346.38 304.05 L346.92 304.32 L347.46 304.57 L347.99 304.81 L348.53 305.03 L349.07 305.23 L349.61 305.42 L350.15 305.59 L350.69 305.74 L351.23 305.87 L351.77 305.98 L352.31 306.08 L352.84 306.16 L353.38 306.22 L353.92 306.26 L354.46 306.29 L355.00 306.30 L355.52 306.29 L356.04 306.26 L356.57 306.22 L357.09 306.16 L357.61 306.08 L358.13 305.98 L358.65 305.87 L359.17 305.74 L359.70 305.59 L360.22 305.42 L360.74 305.23 L361.26 305.03 L361.78 304.81 L362.30 304.57 L362.83 304.32 L363.35 304.05 L363.87 303.76 L364.39 303.45 L364.91 303.12 L365.43 302.78 L365.96 302.42 L366.48 302.04 L367.00 301.64 L367.52 301.23 L368.04 300.80 L368.56 300.35 L369.09 299.88 L369.61 299.40 L370.13 298.90 L370.65 298.38 L371.17 297.84 L371.69 297.29 L372.22 296.71 L372.74 296.12 L373.26 295.52 L373.78 294.89 L374.30 294.25 L374.82 293.59 L375.35 292.91 L375.87 292.22 L376.39 291.50 L376.91 290.77 L377.43 290.02 L377.95 289.26 L378.48 288.48 L379.00 287.67 L379.53 286.86 L380.07 286.02 L380.60 285.17 L381.14 284.29 L381.68 283.41 L382.22 282.50 L382.76 281.57 L383.30 280.63 L383.84 279.67 L384.38 278.70 L384.92 277.70 L385.45 276.69 L385.99 275.66 L386.53 274.61 L387.07 273.55 L387.61 272.46 L388.15 271.36 L388.69 270.25 L389.23 269.11 L389.77 267.96 L390.30 266.79 L390.84 265.60 L391.38 264.39 L391.92 263.17 L392.46 261.93 L393.00 260.67 L393.54 259.39 L394.08 258.10 L394.62 256.79 L395.15 255.46 L395.69 254.11 L396.23 252.75 L396.77 251.37 L397.31 249.97" stroke="#b062d6" stroke-width="5.9"/>
<path d="M315.90 258.46 L316.39 259.64 L316.88 260.82 L317.37 261.98 L317.86 263.12 L318.34 264.25 L318.83 265.36 L319.32 266.46 L319.81 267.55 L320.30 268.61 L320.79 269.67 L321.28 270.71 L321.77 271.73 L322.25 272.74 L322.74 273.74 L323.23 274.72 L323.72 275.68 L324.21 276.63 L324.70 277.56 L325.19 278.48 L325.68 279.39 L326.16 280.28 L326.65 281.15 L327.14 282.01 L327.63 282.86 L328.12 283.69 L328.61 284.50 L329.10 285.30 L329.59 286.09 L330.07 286.86 L330.56 287.61 L331.05 288.35 L331.54 289.08 L332.03 289.79 L332.52 290.48 L333.01 291.16 L333.50 291.83 L333.98 292.48 L334.47 293.11 L334.96 293.73 L335.45 294.34 L335.94 294.93 L336.43 295.51 L336.92 296.07 L337.41 296.61 L337.89 297.14 L338.38 297.66 L338.87 298.16 L339.36 298.64 L339.85 299.12 L340.34 299.57 L340.83 300.01 L341.32 300.44 L341.80 300.85 L342.29 301.25 L342.78 301.63 L343.27 301.99 L343.76 302.35 L344.25 302.68 L344.74 303.00 L345.23 303.31 L345.71 303.60 L346.20 303.88 L346.69 304.14 L347.18 304.39 L347.67 304.62 L348.16 304.83 L348.65 305.04 L349.14 305.22 L349.62 305.40 L350.11 305.55 L350.60 305.69 L351.09 305.82 L351.58 305.93 L352.07 306.03 L352.56 306.11 L353.05 306.18 L353.53 306.23 L354.02 306.27 L354.51 306.29 L355.00 306.30 L355.47 306.29 L355.95 306.27 L356.42 306.23 L356.89 306.18 L357.37 306.11 L357.84 306.03 L358.31 305.93 L358.79 305.82 L359.26 305.69 L359.73 305.55 L360.20 305.40 L360.68 305.22 L361.15 305.04 L361.62 304.83 L362.10 304.62 L362.57 304.39 L363.04 304.14 L363.52 303.88 L363.99 303.60 L364.46 303.31 L364.94 303.00 L365.41 302.68 L365.88 302.35 L366.36 301.99 L366.83 301.63 L367.30 301.25 L367.77 300.85 L368.25 300.44 L368.72 300.01 L369.19 299.57 L369.67 299.12 L370.14 298.64 L370.61 298.16 L371.09 297.66 L371.56 297.14 L372.03 296.61 L372.51 296.07 L372.98 295.51 L373.45 294.93 L373.93 294.34 L374.40 293.73 L374.87 293.11 L375.35 292.48 L375.82 291.83 L376.29 291.16 L376.76 290.48 L377.24 289.79 L377.71 289.08 L378.18 288.35 L378.66 287.61 L379.13 286.86 L379.61 286.09 L380.10 285.30 L380.59 284.50 L381.08 283.69 L381.57 282.86 L382.06 282.01 L382.55 281.15 L383.04 280.28 L383.52 279.39 L384.01 278.48 L384.50 277.56 L384.99 276.63 L385.48 275.68 L385.97 274.72 L386.46 273.74 L386.95 272.74 L387.43 271.73 L387.92 270.71 L388.41 269.67 L388.90 268.61 L389.39 267.55 L389.88 266.46 L390.37 265.36 L390.86 264.25 L391.34 263.12 L391.83 261.98 L392.32 260.82 L392.81 259.64 L393.30 258.46" stroke="#b552ee" stroke-width="6.2"/>
<path d="M320.19 267.43 L320.63 268.39 L321.06 269.35 L321.50 270.29 L321.93 271.22 L322.37 272.14 L322.80 273.04 L323.24 273.93 L323.67 274.81 L324.11 275.68 L324.54 276.54 L324.98 277.38 L325.41 278.22 L325.85 279.04 L326.28 279.84 L326.72 280.64 L327.15 281.42 L327.59 282.19 L328.02 282.95 L328.46 283.70 L328.89 284.44 L329.33 285.16 L329.76 285.87 L330.20 286.57 L330.63 287.25 L331.07 287.93 L331.50 288.59 L331.94 289.24 L332.38 289.88 L332.81 290.50 L333.25 291.12 L333.68 291.72 L334.12 292.31 L334.55 292.88 L334.99 293.45 L335.42 294.00 L335.86 294.54 L336.29 295.07 L336.73 295.59 L337.16 296.09 L337.60 296.58 L338.03 297.06 L338.47 297.53 L338.90 297.99 L339.34 298.43 L339.77 298.86 L340.21 299.28 L340.64 299.69 L341.08 300.08 L341.51 300.46 L341.95 300.83 L342.38 301.19 L342.82 301.54 L343.25 301.87 L343.69 302.19 L344.12 302.50 L344.56 302.80 L344.99 303.09 L345.43 303.36 L345.86 303.62 L346.30 303.87 L346.73 304.11 L347.17 304.33 L347.60 304.54 L348.04 304.75 L348.47 304.93 L348.91 305.11 L349.34 305.27 L349.78 305.43 L350.21 305.57 L350.65 305.69 L351.08 305.81 L351.52 305.91 L351.95 306.00 L352.39 306.08 L352.82 306.15 L353.26 306.20 L353.69 306.25 L354.13 306.28 L354.56 306.29 L355.00 306.30 L355.42 306.29 L355.84 306.28 L356.26 306.25 L356.68 306.20 L357.11 306.15 L357.53 306.08 L357.95 306.00 L358.37 305.91 L358.79 305.81 L359.21 305.69 L359.63 305.57 L360.05 305.43 L360.48 305.27 L360.90 305.11 L361.32 304.93 L361.74 304.75 L362.16 304.54 L362.58 304.33 L363.00 304.11 L363.42 303.87 L363.85 303.62 L364.27 303.36 L364.69 303.09 L365.11 302.80 L365.53 302.50 L365.95 302.19 L366.37 301.87 L366.79 301.54 L367.22 301.19 L367.64 300.83 L368.06 300.46 L368.48 300.08 L368.90 299.69 L369.32 299.28 L369.74 298.86 L370.16 298.43 L370.58 297.99 L371.01 297.53 L371.43 297.06 L371.85 296.58 L372.27 296.09 L372.69 295.59 L373.11 295.07 L373.53 294.54 L373.95 294.00 L374.38 293.45 L374.80 292.88 L375.22 292.31 L375.64 291.72 L376.06 291.12 L376.48 290.50 L376.90 289.88 L377.32 289.24 L377.75 288.59 L378.17 287.93 L378.59 287.25 L379.01 286.57 L379.44 285.87 L379.87 285.16 L380.31 284.44 L380.74 283.70 L381.18 282.95 L381.61 282.19 L382.05 281.42 L382.48 280.64 L382.92 279.84 L383.35 279.04 L383.79 278.22 L384.22 277.38 L384.66 276.54 L385.09 275.68 L385.53 274.81 L385.96 273.93 L386.40 273.04 L386.83 272.14 L387.27 271.22 L387.70 270.29 L388.14 269.35 L388.57 268.39 L389.01 267.43" stroke="#bb55ff" stroke-width="6.4"/>
</g>
<path d="M355.36 308.74 L356.37 308.73 L357.44 308.65 L358.51 308.53 L359.58 308.35 L360.65 308.12 L361.71 307.84 L362.77 307.51 L363.83 307.13 L364.88 306.70 L365.93 306.22 L366.98 305.70 L368.02 305.12 L369.06 304.51 L370.10 303.84 L371.13 303.13 L372.16 302.37 L373.19 301.57 L374.21 300.73 L375.23 299.83 L376.25 298.90 L377.26 297.91 L378.27 296.89 L379.28 295.81 L380.28 294.69 L381.28 293.52 L382.28 292.31 L383.27 291.05 L384.25 289.74 L385.23 288.39 L386.21 286.98 L387.18 285.53 L388.14 284.03 L389.10 282.48 L390.06 280.88 L391.01 279.22 L391.96 277.52 L392.91 275.77 L393.85 273.96 L394.79 272.10 L395.72 270.18 L396.66 268.21 L397.59 266.19 L398.52 264.11 L399.45 261.97 L400.38 259.77 L401.31 257.51 L402.24 255.19 L403.17 252.81 L404.10 250.37 L405.03 247.87 L405.97 245.29 L406.90 242.66 L407.84 239.95 L408.77 237.18 L409.71 234.33 L410.65 231.42 L411.59 228.43 L412.53 225.37 L413.47 222.23 L414.42 219.02 L415.36 215.73 L416.31 212.36 L417.25 208.91 L418.20 205.38 L419.14 201.77 L420.09 198.08 L421.04 194.30 L421.98 190.43 L422.93 186.48 L423.88 182.43 L424.83 178.30 L425.77 174.08 L426.72 169.76 L427.67 165.35 L428.62 160.84 L429.57 156.24 L430.51 151.54 L431.46 146.74 L432.41 141.83 L433.36 136.83 L434.31 131.72 L435.25 126.51 L436.20 121.19 L437.15 115.76 L438.10 110.22 L439.04 104.57 L439.99 98.81 L440.94 92.93 L441.89 86.93 L442.83 80.82 L443.78 74.59 L444.73 68.24 L445.67 61.76 L446.62 55.16 L447.57 48.43 L448.52 41.57 L449.46 34.59 L450.41 27.47 L451.36 20.22 L446.60 19.60 L445.65 26.84 L444.71 33.95 L443.76 40.92 L442.81 47.77 L441.87 54.48 L440.92 61.07 L439.98 67.53 L439.03 73.87 L438.09 80.09 L437.14 86.19 L436.20 92.17 L435.25 98.03 L434.31 103.78 L433.36 109.42 L432.42 114.94 L431.47 120.35 L430.53 125.66 L429.58 130.85 L428.64 135.95 L427.69 140.93 L426.75 145.82 L425.81 150.60 L424.86 155.28 L423.92 159.86 L422.97 164.35 L422.03 168.74 L421.08 173.03 L420.14 177.24 L419.19 181.35 L418.25 185.36 L417.30 189.29 L416.36 193.14 L415.41 196.89 L414.47 200.56 L413.52 204.14 L412.57 207.64 L411.63 211.06 L410.68 214.39 L409.73 217.65 L408.78 220.83 L407.83 223.92 L406.88 226.95 L405.93 229.89 L404.97 232.76 L404.02 235.56 L403.06 238.29 L402.11 240.94 L401.15 243.52 L400.19 246.04 L399.23 248.48 L398.27 250.86 L397.30 253.18 L396.34 255.42 L395.38 257.61 L394.42 259.73 L393.46 261.79 L392.49 263.79 L391.53 265.73 L390.58 267.62 L389.62 269.45 L388.67 271.22 L387.71 272.94 L386.77 274.60 L385.82 276.22 L384.88 277.78 L383.95 279.29 L383.02 280.76 L382.09 282.18 L381.17 283.55 L380.25 284.87 L379.34 286.15 L378.43 287.38 L377.53 288.57 L376.63 289.72 L375.74 290.82 L374.85 291.87 L373.96 292.89 L373.08 293.86 L372.20 294.78 L371.32 295.66 L370.45 296.50 L369.58 297.30 L368.72 298.04 L367.86 298.75 L367.00 299.40 L366.14 300.02 L365.29 300.58 L364.44 301.10 L363.59 301.58 L362.75 302.01 L361.91 302.39 L361.08 302.73 L360.24 303.02 L359.41 303.27 L358.59 303.48 L357.76 303.64 L356.94 303.75 L356.12 303.83 L355.24 303.86Z" fill="#000"/>
<rect x="254.75" y="6.75" width="200.1" height="299.5" fill="none" stroke="#333" stroke-width="1.4"/>
<path d="M254.75 16.55h3.6 M454.85 16.55h-3.6 M261 6.75v3.8 M448.7 6.75v3.8 M261 306.25v-3.6 M448.7 306.25v-3.6 M253.3 306.25h1.5" stroke="#333" stroke-width="1.2" fill="none"/>
<g fill="none" stroke="#fa9f64" stroke-width="2.4">
<circle cx="354.8" cy="305.9" r="3.6"/>
<circle cx="388.3" cy="277.4" r="3.6"/>
<circle cx="403.3" cy="248.1" r="3.6"/>
<circle cx="413.2" cy="220.7" r="3.6"/>
<circle cx="421.0" cy="196.3" r="3.6"/>
<circle cx="427.6" cy="171.8" r="3.6"/>
<circle cx="432.7" cy="149.9" r="3.6"/>
<circle cx="436.5" cy="129.5" r="3.6"/>
<circle cx="440.3" cy="109.1" r="3.6"/>
<circle cx="443.0" cy="91.5" r="3.6"/>
<circle cx="445.6" cy="74.3" r="3.6"/>
<circle cx="447.0" cy="57.4" r="3.6"/>
<circle cx="447.5" cy="43.7" r="3.6"/>
<circle cx="447.8" cy="31.3" r="3.6"/>
<circle cx="447.8" cy="22.7" r="3.6"/>
<circle cx="448.2" cy="18.4" r="3.6"/>
</g>
<line x1="275.10" y1="214.10" x2="297.44" y2="266.86" stroke="#4a4a4a" stroke-width="1.4"/>
<path d="M299.20 271.00 L294.29 267.11 L297.52 267.04 L299.82 264.77 Z" fill="#4a4a4a"/>
<rect x="560.5" y="8.5" width="122" height="121.8" fill="none" stroke="#666" stroke-width="1"/>
<path d="M560.5 12.8h2 M682.5 12.8h-2 M658.4 8.5v2 M658.4 130.3v-2" stroke="#555" stroke-width="1" fill="none"/>
<path d="M566.20 12.90 C567.27 13.22 571.00 14.22 572.60 14.80 C574.20 15.38 574.78 15.85 575.80 16.40 C576.82 16.95 577.15 16.98 578.70 18.10 C580.25 19.22 583.03 21.30 585.10 23.10 C587.17 24.90 589.10 26.87 591.10 28.90 C593.10 30.93 595.10 33.07 597.10 35.30 C599.10 37.53 601.08 39.85 603.10 42.30 C605.12 44.75 607.18 47.38 609.20 50.00 C611.22 52.62 613.20 55.27 615.20 58.00 C617.20 60.73 619.20 63.50 621.20 66.40 C623.20 69.30 625.20 72.28 627.20 75.40 C629.20 78.52 631.18 81.75 633.20 85.10 C635.22 88.45 637.28 91.97 639.30 95.50 C641.32 99.03 643.30 102.52 645.30 106.30 C647.30 110.08 649.13 114.15 651.30 118.20 C653.47 122.25 657.13 128.53 658.30 130.60" fill="none" stroke="#fa9f64" stroke-width="2" stroke-linecap="round"/>
<g fill="#fa9f64">
<circle cx="566.2" cy="12.9" r="1.8"/>
<circle cx="572.6" cy="14.8" r="1.8"/>
<circle cx="575.8" cy="16.4" r="1.8"/>
<circle cx="578.7" cy="18.1" r="1.8"/>
<circle cx="585.1" cy="23.1" r="1.8"/>
<circle cx="591.1" cy="28.9" r="1.8"/>
<circle cx="597.1" cy="35.3" r="1.8"/>
<circle cx="603.1" cy="42.3" r="1.8"/>
<circle cx="609.2" cy="50.0" r="1.8"/>
<circle cx="615.2" cy="58.0" r="1.8"/>
<circle cx="621.2" cy="66.4" r="1.8"/>
<circle cx="627.2" cy="75.4" r="1.8"/>
<circle cx="633.2" cy="85.1" r="1.8"/>
<circle cx="639.3" cy="95.5" r="1.8"/>
<circle cx="645.3" cy="106.3" r="1.8"/>
<circle cx="651.3" cy="118.2" r="1.8"/>
<circle cx="658.3" cy="130.6" r="1.8"/>
</g>
<rect x="561.5" y="185.5" width="122" height="122" fill="none" stroke="#808080" stroke-width="1"/>
<path d="M561.5 301.7h1.5 M561.5 196h1.5 M660.3 185.5v1.5 M660.3 307.5v-1.5" stroke="#777" stroke-width="1" fill="none"/>
<path d="M561.50 196.00 L563.48 196.00 L565.46 196.01 L567.43 196.02 L569.41 196.04 L571.39 196.05 L573.37 196.09 L575.35 196.15 L577.32 196.24 L579.30 196.33 L581.28 196.42 L583.26 196.54 L585.24 196.68 L587.21 196.85 L589.19 197.05 L591.17 197.31 L593.15 197.63 L595.13 198.01 L597.10 198.50 L599.08 199.14 L601.06 199.89 L603.04 200.71 L605.02 201.62 L606.99 202.66 L608.97 203.82 L610.95 205.06 L612.93 206.37 L614.91 207.74 L616.88 209.16 L618.86 210.68 L620.84 212.31 L622.82 214.05 L624.80 215.89 L626.77 217.88 L628.75 220.05 L630.73 222.43 L632.71 225.10 L634.69 228.03 L636.66 231.03 L638.64 234.18 L640.62 237.48 L642.60 240.94 L644.58 244.56 L646.55 248.38 L648.53 252.49 L650.51 256.99 L651.00 258.19 L651.25 258.79 L651.49 259.39 L651.73 260.01 L651.97 260.64 L652.21 261.28 L652.45 261.93 L652.69 262.59 L652.93 263.27 L653.17 263.97 L653.41 264.68 L653.65 265.42 L653.90 266.19 L654.14 266.97 L654.38 267.78 L654.62 268.62 L654.86 269.47 L655.10 270.34 L655.34 271.23 L655.58 272.14 L655.82 273.06 L656.06 274.00 L656.30 274.95 L656.55 275.95 L656.79 276.99 L657.03 278.06 L657.27 279.16 L657.51 280.28 L657.75 281.42 L657.99 282.57 L658.23 283.71 L658.47 284.89 L658.71 286.13 L658.95 287.43 L659.20 288.81 L659.44 290.31 L659.68 291.96 L659.92 293.85 L660.16 296.23 L660.40 301.70 L660.60 301.80 L683.30 301.80" fill="none" stroke="#fa9f64" stroke-width="3.2" stroke-linejoin="round"/>
<text transform="translate(23.20 14.40) rotate(0) scale(0.940 1)" font-size="14.50" fill="#111" stroke="#111" stroke-width="0.25" font-weight="normal">135</text>
<text transform="translate(34.60 134.50) rotate(0) scale(0.940 1)" font-size="14.50" fill="#111" stroke="#111" stroke-width="0.25" font-weight="normal">0</text>
<text transform="translate(45.80 145.70) rotate(0) scale(0.940 1)" font-size="14.50" fill="#111" stroke="#111" stroke-width="0.25" font-weight="normal">0</text>
<text transform="translate(167.20 146.50) rotate(0) scale(0.940 1)" font-size="14.50" fill="#111" stroke="#111" stroke-width="0.25" font-weight="normal">3</text>
<text transform="translate(173.30 14.10) rotate(0) scale(1.030 1)" font-size="10.80" fill="#1fb930" stroke="#1fb930" stroke-width="0.25" font-weight="normal">34 K</text>
<text transform="translate(173.90 100.10) rotate(0) scale(1.030 1)" font-size="10.80" fill="#b838ff" stroke="#b838ff" stroke-width="0.25" font-weight="normal">48 K</text>
<text transform="translate(-1.50 10.00) rotate(0) scale(1.000 1)" font-size="13.00" fill="#000" stroke="#000" stroke-width="0.25" font-weight="bold">a</text>
<text transform="translate(22.10 92.30) rotate(-90) scale(0.900 1)" font-size="15.20" fill="#111" stroke="#111" stroke-width="0.25" font-weight="normal">δG (%)</text>
<text transform="translate(77.70 158.00) rotate(0) scale(0.960 1)" font-size="14.50" fill="#111" stroke="#111" stroke-width="0.25" font-weight="normal">μ<tspan font-size="9.2" baseline-shift="-4.3">0</tspan><tspan font-style="italic">H</tspan> (Tesla)</text>
<text transform="translate(23.40 195.30) rotate(0) scale(0.940 1)" font-size="14.50" fill="#111" stroke="#111" stroke-width="0.25" font-weight="normal">2.3</text>
<text transform="translate(34.60 307.50) rotate(0) scale(0.940 1)" font-size="14.50" fill="#111" stroke="#111" stroke-width="0.25" font-weight="normal">0</text>
<text transform="translate(44.20 321.20) rotate(0) scale(0.940 1)" font-size="14.50" fill="#111" stroke="#111" stroke-width="0.25" font-weight="normal">0</text>
<text transform="translate(167.20 320.70) rotate(0) scale(0.940 1)" font-size="14.50" fill="#111" stroke="#111" stroke-width="0.25" font-weight="normal">3</text>
<text transform="translate(173.40 200.70) rotate(0) scale(1.030 1)" font-size="10.80" fill="#1fb930" stroke="#1fb930" stroke-width="0.25" font-weight="normal">34 K</text>
<text transform="translate(173.90 252.90) rotate(0) scale(1.030 1)" font-size="10.80" fill="#b838ff" stroke="#b838ff" stroke-width="0.25" font-weight="normal">48 K</text>
<text transform="translate(-1.00 182.50) rotate(0) scale(1.000 1)" font-size="13.00" fill="#000" stroke="#000" stroke-width="0.25" font-weight="bold">b</text>
<text transform="translate(27.45 276.20) rotate(-90) scale(0.900 1)" font-size="15.20" fill="#111" stroke="#111" stroke-width="0.25" font-weight="normal"><tspan font-style="italic">M</tspan> (μ<tspan font-size="7.5" baseline-shift="-5.6">B</tspan>/Cr)</text>
<text transform="translate(76.00 341.80) rotate(0) scale(0.960 1)" font-size="14.50" fill="#111" stroke="#111" stroke-width="0.25" font-weight="normal">μ<tspan font-size="9.2" baseline-shift="-4.3">0</tspan><tspan font-style="italic">H</tspan> (Tesla)</text>
<text transform="translate(222.90 22.40) rotate(0) scale(0.900 1)" font-size="17.30" fill="#111" stroke="#111" stroke-width="0.25" font-weight="normal">300</text>
<text transform="translate(239.30 310.80) rotate(0) scale(0.900 1)" font-size="17.30" fill="#111" stroke="#111" stroke-width="0.25" font-weight="normal">0</text>
<text transform="translate(459.70 22.40) rotate(0) scale(0.900 1)" font-size="17.30" fill="#111" stroke="#111" stroke-width="0.25" font-weight="normal">300</text>
<text transform="translate(460.00 311.30) rotate(0) scale(0.900 1)" font-size="17.30" fill="#111" stroke="#111" stroke-width="0.25" font-weight="normal">0</text>
<text transform="translate(253.30 328.40) rotate(0) scale(0.900 1)" font-size="17.30" fill="#111" stroke="#111" stroke-width="0.25" font-weight="normal">-3</text>
<text transform="translate(350.80 329.90) rotate(0) scale(0.900 1)" font-size="17.30" fill="#111" stroke="#111" stroke-width="0.25" font-weight="normal">0</text>
<text transform="translate(443.40 326.60) rotate(0) scale(0.900 1)" font-size="17.30" fill="#111" stroke="#111" stroke-width="0.25" font-weight="normal">3</text>
<text transform="translate(208.00 9.20) rotate(0) scale(1.000 1)" font-size="13.00" fill="#000" stroke="#000" stroke-width="0.25" font-weight="bold">c</text>
<text transform="translate(326.50 343.30) rotate(0) scale(0.900 1)" font-size="17.30" fill="#111" stroke="#111" stroke-width="0.25" font-weight="normal"><tspan font-style="italic">M</tspan> (μ<tspan font-size="9.6" baseline-shift="-5.4">B</tspan>/Cr)</text>
<text transform="translate(260.90 210.40) rotate(0) scale(1.030 1)" font-size="10.80" fill="#1fb930" stroke="#1fb930" stroke-width="0.25" font-weight="normal">34 K</text>
<text transform="translate(290.90 284.30) rotate(0) scale(1.030 1)" font-size="10.80" fill="#b838ff" stroke="#b838ff" stroke-width="0.25" font-weight="normal">48 K</text>
<text transform="translate(229.10 215.90) rotate(-90) scale(0.963 1)" font-size="16.20" fill="#111" stroke="#111" stroke-width="0.25" font-weight="normal">δG=(G<tspan font-size="8.8" baseline-shift="-4.7">H,T</tspan>-G<tspan font-size="8.8" baseline-shift="-4.7">0,T</tspan>)/G<tspan font-size="8.8" baseline-shift="-4.7">0,T</tspan> (%)</text>
<text transform="translate(485.30 212.90) rotate(-90) scale(0.972 1)" font-size="16.20" fill="#111" stroke="#111" stroke-width="0.25" font-weight="normal"><tspan font-size="12.5">Δ</tspan>G=(G<tspan font-size="8.5" baseline-shift="-4.5">0,T</tspan>-G<tspan font-size="8.5" baseline-shift="-4.5">0,T</tspan><tspan font-size="6.5" baseline-shift="-6">C</tspan> )/G<tspan font-size="8.5" baseline-shift="-4.5">0,T</tspan><tspan font-size="6.5" baseline-shift="-6">C</tspan>(%)</text>
<text transform="translate(527.50 18.10) rotate(0) scale(1.000 1)" font-size="14.30" fill="#111" stroke="#111" stroke-width="0.25" font-weight="normal">300</text>
<text transform="translate(547.50 135.30) rotate(0) scale(1.000 1)" font-size="14.30" fill="#111" stroke="#111" stroke-width="0.25" font-weight="normal">0</text>
<text transform="translate(556.50 148.20) rotate(0) scale(1.000 1)" font-size="14.30" fill="#111" stroke="#111" stroke-width="0.25" font-weight="normal">0</text>
<text transform="translate(650.50 146.40) rotate(0) scale(1.000 1)" font-size="14.30" fill="#111" stroke="#111" stroke-width="0.25" font-weight="normal">32</text>
<text transform="translate(600.90 157.50) rotate(0) scale(1.000 1)" font-size="14.30" fill="#111" stroke="#111" stroke-width="0.25" font-weight="normal">T (K)</text>
<text transform="translate(510.70 8.80) rotate(0) scale(1.000 1)" font-size="13.00" fill="#000" stroke="#000" stroke-width="0.25" font-weight="bold">d</text>
<text transform="translate(534.50 94.40) rotate(-90) scale(1.000 1)" font-size="14.00" fill="#111" stroke="#111" stroke-width="0.25" font-weight="normal"><tspan font-size="12">Δ</tspan>G (%)</text>
<text transform="translate(546.70 202.10) rotate(0) scale(0.950 1)" font-size="14.80" fill="#111" stroke="#111" stroke-width="0.25" font-weight="normal">1</text>
<text transform="translate(547.70 310.60) rotate(0) scale(0.950 1)" font-size="14.80" fill="#111" stroke="#111" stroke-width="0.25" font-weight="normal">0</text>
<text transform="translate(557.80 326.00) rotate(0) scale(0.950 1)" font-size="14.80" fill="#111" stroke="#111" stroke-width="0.25" font-weight="normal">0</text>
<text transform="translate(656.10 325.70) rotate(0) scale(0.950 1)" font-size="14.80" fill="#111" stroke="#111" stroke-width="0.25" font-weight="normal">1</text>
<text transform="translate(609.30 341.00) rotate(0) scale(0.950 1)" font-size="14.80" fill="#111" stroke="#111" stroke-width="0.25" font-weight="normal">T/T<tspan font-size="8.5" baseline-shift="-4.6">C</tspan></text>
<text transform="translate(517.80 182.90) rotate(0) scale(1.000 1)" font-size="13.00" fill="#000" stroke="#000" stroke-width="0.25" font-weight="bold">e</text>
<text transform="translate(541.20 263.70) rotate(-90) scale(0.915 1)" font-size="15.40" fill="#111" stroke="#111" stroke-width="0.25" font-weight="normal"><tspan font-style="italic">M</tspan><tspan font-size="7.8" baseline-shift="-5.3">0</tspan>/M<tspan font-size="7.8" baseline-shift="-5.3">S</tspan></text>
</svg>
</body></html>
